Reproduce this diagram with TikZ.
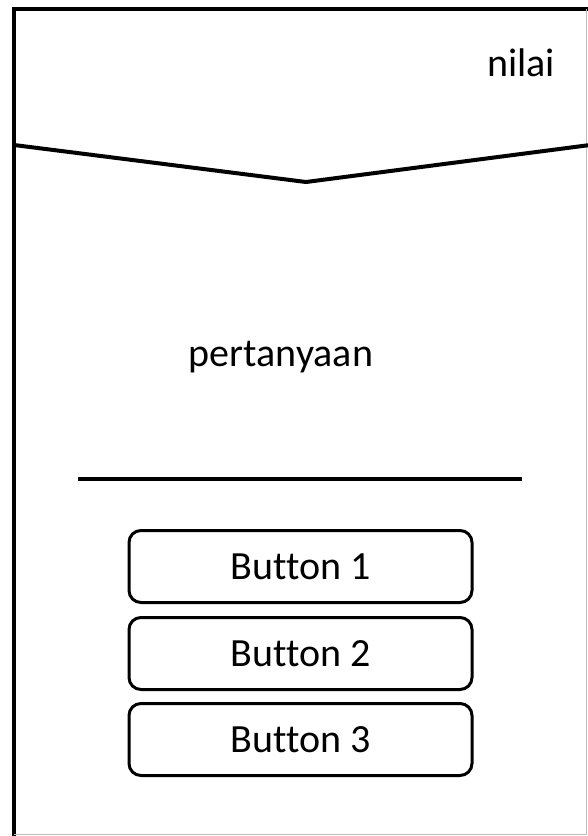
\documentclass[tikz,border=0pt]{standalone}
\usepackage{fontspec}
\setmainfont[Ligatures={NoCommon,NoRequired,NoContextual}]{Carlito}
\begin{document}
\begin{tikzpicture}[x=1pt,y=-1pt,
  frame/.style={line width=4.5pt,black},
  btn/.style={draw,line width=3pt,rounded corners=12pt,minimum width=343pt,minimum height=72pt,font=\fontsize{40}{44}\selectfont,inner sep=0pt},
  lbl/.style={font=\fontsize{40}{44}\selectfont,inner sep=0pt,anchor=base}]
\useasboundingbox (0,0) rectangle (588,836);
% outer frame
\coordinate (tl) at (14,9);
\coordinate (bl) at (14,836);
\coordinate (tr) at (588,9);
\draw[frame,line cap=rect] (bl) -- (tl) -- (tr);
\draw[gray!50,line width=1pt] (586,9) -- (586,834) -- (14,834);
% header zigzag
\coordinate (zl) at (14,145);
\coordinate (zm) at (306,182);
\coordinate (zr) at (590,145);
\draw[line width=4pt,line join=round] (zl) -- (zm) -- (zr);
\node[lbl] (nilai) at (521,76) {nilai};
\node[lbl] (tanya) at (281,366) {pertanyaan};
% separator
\coordinate (sl) at (78,479);
\coordinate (sr) at (522,479);
\draw[line width=4pt] (sl) -- (sr);
% buttons
\node[btn] (b1) at (300.5,566.5) {Button 1};
\node[btn] (b2) at (300.5,653.5) {Button 2};
\node[btn] (b3) at (300.5,739.5) {Button 3};
\end{tikzpicture}
\end{document}
